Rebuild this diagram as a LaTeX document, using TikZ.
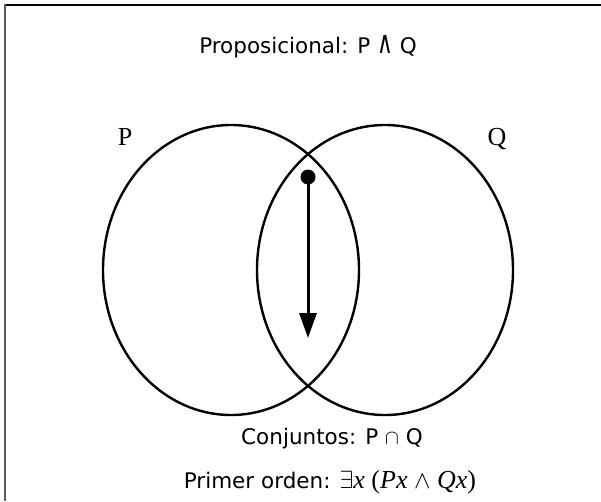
\documentclass[tikz,border=0pt]{standalone}
\usepackage{fontspec}
\usepackage{graphicx}
\setmainfont{DejaVu Sans}
\newfontfamily\serifrm{Liberation Serif}
\usetikzlibrary{arrows.meta}
\tikzset{
  set/.style={draw=black, line width=2.4pt},
  lbl/.style={font=\fontsize{21.5}{26}\selectfont, inner sep=0pt, anchor=base},
  setlbl/.style={font=\fontsize{26}{30}\serifrm, inner sep=0pt, anchor=base},
  frameline/.style={line width=2pt},
}
\begin{document}
\begin{tikzpicture}[x=1pt,y=-1pt]
\useasboundingbox (0,0) rectangle (601,501);
\fill[white] (0,0) rectangle (601,501);
\draw[frameline, black] (4,5) -- (601,5);
\draw[frameline, black!65] (5,4) -- (5,501);
\node[lbl] (title) at (308,53) {Proposicional: P \scalebox{1}[1.45]{∧} Q};
\draw[set] (231,270) ellipse [x radius=128, y radius=145];
\draw[set] (385,270) ellipse [x radius=128, y radius=145];
\node[setlbl] (P) at (125,145) {P};
\node[setlbl] (Q) at (497,145) {Q};
\fill (308,177) circle (7.5) coordinate (dot);
\coordinate (tip) at (308,338);
\draw[line width=3pt, -{Triangle[length=25pt,width=17pt]}] (dot) -- (tip);
\node[lbl] (conj) at (332,444) {Conjuntos: P $\cap$ Q};
\node[lbl] (fol) at (330,488) {Primer orden: {\fontsize{26}{30}\serifrm $\exists$\textit{x} (\textit{Px} $\wedge$ \textit{Qx})}};
\end{tikzpicture}
\end{document}
